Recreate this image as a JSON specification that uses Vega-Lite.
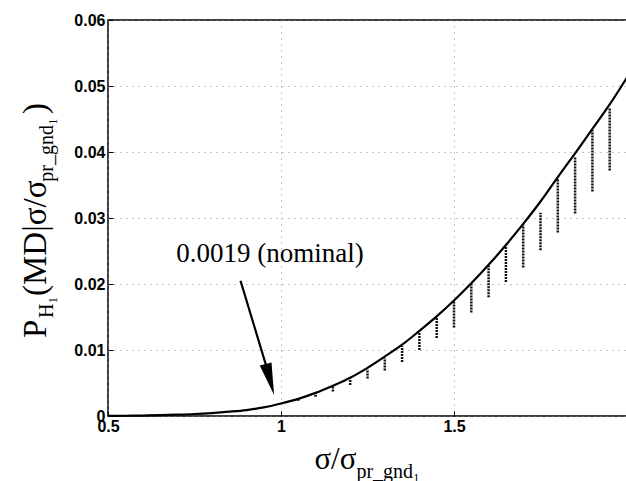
{
  "$schema": "https://vega.github.io/schema/vega-lite/v6.json",
  "width": 519,
  "height": 396,
  "autosize": "none",
  "padding": {"left": 108, "top": 20, "right": 0, "bottom": 65},
  "background": "white",
  "config": {
    "view": {"stroke": "black", "strokeWidth": 1.5},
    "axis": {
      "domain": false,
      "grid": true,
      "gridColor": "#8a8a8a",
      "gridDash": [1, 5],
      "gridWidth": 1,
      "ticks": true,
      "tickColor": "black",
      "tickSize": -5,
      "labelFont": "Liberation Sans",
      "labelFontWeight": "bold",
      "labelFontSize": 16,
      "labelColor": "black",
      "title": null
    }
  },
  "datasets": {
    "curve": [
      {"r": 0.5, "p": 0.00002}, {"r": 0.55, "p": 0.00004}, {"r": 0.6, "p": 0.00007},
      {"r": 0.65, "p": 0.00012}, {"r": 0.7, "p": 0.0002}, {"r": 0.75, "p": 0.0003},
      {"r": 0.8, "p": 0.00045}, {"r": 0.85, "p": 0.00065}, {"r": 0.9, "p": 0.0009},
      {"r": 0.95, "p": 0.0013}, {"r": 1.0, "p": 0.0019}, {"r": 1.05, "p": 0.0026},
      {"r": 1.1, "p": 0.0035}, {"r": 1.15, "p": 0.0046}, {"r": 1.2, "p": 0.0058},
      {"r": 1.25, "p": 0.0073}, {"r": 1.3, "p": 0.009}, {"r": 1.35, "p": 0.0108},
      {"r": 1.4, "p": 0.0129}, {"r": 1.45, "p": 0.0151}, {"r": 1.5, "p": 0.0175},
      {"r": 1.55, "p": 0.0201}, {"r": 1.6, "p": 0.0229}, {"r": 1.65, "p": 0.0259},
      {"r": 1.7, "p": 0.0291}, {"r": 1.75, "p": 0.0325}, {"r": 1.8, "p": 0.0362},
      {"r": 1.85, "p": 0.0398}, {"r": 1.9, "p": 0.0435}, {"r": 1.95, "p": 0.0472},
      {"r": 2.0, "p": 0.0513}
    ],
    "strips": [
      {"r": 1.05, "lo": 0.0023, "hi": 0.0026},
      {"r": 1.1, "lo": 0.0029, "hi": 0.0035},
      {"r": 1.15, "lo": 0.0037, "hi": 0.0046},
      {"r": 1.2, "lo": 0.0047, "hi": 0.0057},
      {"r": 1.25, "lo": 0.0057, "hi": 0.0071},
      {"r": 1.3, "lo": 0.0069, "hi": 0.0088},
      {"r": 1.35, "lo": 0.0082, "hi": 0.0106},
      {"r": 1.4, "lo": 0.01, "hi": 0.0128},
      {"r": 1.45, "lo": 0.0118, "hi": 0.015},
      {"r": 1.5, "lo": 0.0134, "hi": 0.0173},
      {"r": 1.55, "lo": 0.0157, "hi": 0.02},
      {"r": 1.6, "lo": 0.018, "hi": 0.0228},
      {"r": 1.65, "lo": 0.0203, "hi": 0.0258},
      {"r": 1.7, "lo": 0.0225, "hi": 0.029},
      {"r": 1.75, "lo": 0.0251, "hi": 0.0308},
      {"r": 1.8, "lo": 0.0278, "hi": 0.0359},
      {"r": 1.85, "lo": 0.0307, "hi": 0.0393},
      {"r": 1.9, "lo": 0.034, "hi": 0.0433},
      {"r": 1.95, "lo": 0.0372, "hi": 0.0466}
    ],
    "arrow": [
      {"x1": 0.883, "y1": 0.0205, "x2": 0.975, "y2": 0.0045, "tx": 0.98, "ty": 0.0032}
    ],
    "note": [
      {"r": 0.968, "p": 0.0233, "label": "0.0019 (nominal)"}
    ],
    "xmain": [
      {"r": 1.218, "p": -0.008, "label": "σ/σ"}
    ],
    "xsub": [
      {"r": 1.218, "p": -0.0094, "label": "pr_gnd₁"}
    ],
    "ytitle": [
      {"r": 0.3208, "p": 0.01182, "label": "P", "size": 33},
      {"r": 0.341, "p": 0.01485, "label": "H₁", "size": 20},
      {"r": 0.3208, "p": 0.01818, "label": "(MD|σ/σ", "size": 33},
      {"r": 0.341, "p": 0.0355, "label": "pr_gnd₁", "size": 20},
      {"r": 0.3208, "p": 0.04575, "label": ")", "size": 33}
    ]
  },
  "layer": [
    {
      "data": {"name": "strips"},
      "mark": {"type": "rule", "color": "#111111", "strokeWidth": 2.5, "strokeDash": [2, 1]},
      "encoding": {
        "x": {"field": "r", "type": "quantitative", "scale": {"domain": [0.5, 2.0], "nice": false, "zero": false},
              "axis": {"values": [0.5, 1, 1.5], "labelExpr": "datum.value == 0.5 ? '0.5' : datum.value == 1 ? '1' : '1.5'", "labelPadding": 7, "labelFlush": false}},
        "y": {"field": "lo", "type": "quantitative", "scale": {"domain": [0, 0.06], "nice": false},
              "axis": {"values": [0, 0.01, 0.02, 0.03, 0.04, 0.05, 0.06], "labelExpr": "datum.value == 0 ? '0' : format(datum.value, '.2f')", "labelPadding": 8}},
        "y2": {"field": "hi"}
      }
    },
    {
      "data": {"name": "curve"},
      "mark": {"type": "line", "color": "black", "strokeWidth": 2.2, "interpolate": "monotone"},
      "encoding": {
        "x": {"field": "r", "type": "quantitative"},
        "y": {"field": "p", "type": "quantitative"}
      }
    },
    {
      "data": {"name": "arrow"},
      "mark": {"type": "rule", "color": "black", "strokeWidth": 2.2},
      "encoding": {
        "x": {"field": "x1", "type": "quantitative"},
        "y": {"field": "y1", "type": "quantitative"},
        "x2": {"field": "x2"},
        "y2": {"field": "y2"}
      }
    },
    {
      "data": {"name": "arrow"},
      "mark": {"type": "point", "shape": "M -0.19 -1 L 0 0 L 0.19 -1 Z", "filled": true, "color": "black", "opacity": 1, "size": 4096, "angle": 344.7},
      "encoding": {
        "x": {"field": "tx", "type": "quantitative"},
        "y": {"field": "ty", "type": "quantitative"}
      }
    },
    {
      "data": {"name": "note"},
      "mark": {"type": "text", "font": "Liberation Serif", "fontSize": 27, "align": "center", "baseline": "alphabetic", "color": "black"},
      "encoding": {
        "x": {"field": "r", "type": "quantitative"},
        "y": {"field": "p", "type": "quantitative"},
        "text": {"field": "label"}
      }
    },
    {
      "data": {"name": "xmain"},
      "mark": {"type": "text", "font": "Liberation Serif", "fontSize": 31, "align": "right", "baseline": "alphabetic", "color": "black"},
      "encoding": {
        "x": {"field": "r", "type": "quantitative"},
        "y": {"field": "p", "type": "quantitative"},
        "text": {"field": "label"}
      }
    },
    {
      "data": {"name": "xsub"},
      "mark": {"type": "text", "font": "Liberation Serif", "fontSize": 20, "align": "left", "baseline": "alphabetic", "color": "black"},
      "encoding": {
        "x": {"field": "r", "type": "quantitative"},
        "y": {"field": "p", "type": "quantitative"},
        "text": {"field": "label"}
      }
    },
    {
      "data": {"name": "ytitle"},
      "mark": {"type": "text", "font": "Liberation Serif", "baseline": "alphabetic", "align": "left", "angle": 270, "color": "black"},
      "encoding": {
        "x": {"field": "r", "type": "quantitative"},
        "y": {"field": "p", "type": "quantitative"},
        "text": {"field": "label"},
        "size": {"field": "size", "type": "quantitative", "scale": null}
      }
    }
  ]
}
